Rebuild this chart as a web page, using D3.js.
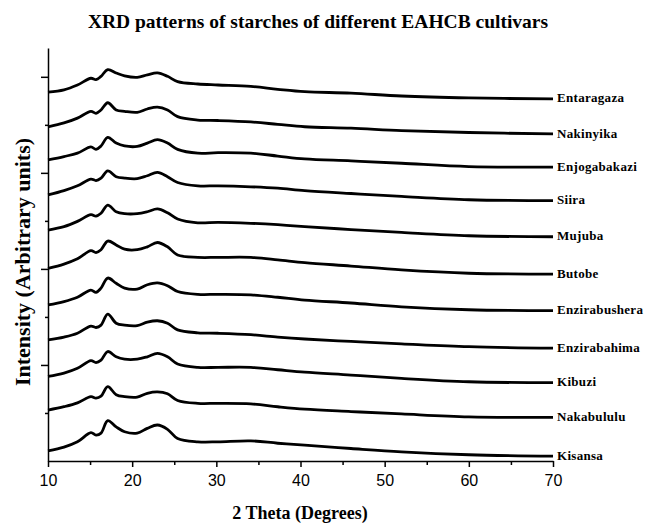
<!DOCTYPE html>
<html>
<head>
<meta charset="utf-8">
<script src="https://cdnjs.cloudflare.com/ajax/libs/d3/7.8.5/d3.min.js"></script>
<style>
  body { margin: 0; background: #fff; }
  svg { display: block; }
</style>
</head>
<body>
<div id="chart"></div>
<script>
const twoTheta = [10, 11.9, 13.5, 15.1, 15.7, 16.3, 17.1, 18.1, 19.1, 20.6, 21.8, 23.0,
                  24.2, 25.4, 27.8, 30.2, 34.1, 37.3, 40.5, 46, 52, 60, 70];

// cultivars, top to bottom (stacked, already offset)
const cultivars = ["Entaragaza", "Nakinyika", "Enjogabakazi", "Siira", "Mujuba", "Butobe",
                   "Enzirabushera", "Enzirabahima", "Kibuzi", "Nakabululu", "Kisansa"];

// intensity (arbitrary units) per cultivar
const entaragaza    = [7.68, 7.73, 7.83, 7.97, 7.94, 8.01, 8.15, 8.08, 8.02, 7.99, 8.04, 8.08, 8.01, 7.90, 7.85, 7.83, 7.80, 7.74, 7.69, 7.66, 7.60, 7.56, 7.54];
const nakinyika     = [6.96, 7.04, 7.14, 7.28, 7.24, 7.31, 7.46, 7.31, 7.28, 7.26, 7.33, 7.37, 7.31, 7.17, 7.10, 7.09, 7.06, 7.01, 6.96, 6.93, 6.88, 6.84, 6.81];
const enjogabakazi  = [6.27, 6.34, 6.41, 6.54, 6.49, 6.56, 6.74, 6.62, 6.56, 6.55, 6.62, 6.69, 6.62, 6.49, 6.41, 6.42, 6.41, 6.35, 6.29, 6.25, 6.20, 6.13, 6.12];
const siira         = [5.54, 5.63, 5.73, 5.87, 5.84, 5.89, 6.04, 5.92, 5.89, 5.88, 5.94, 6.01, 5.92, 5.80, 5.73, 5.73, 5.71, 5.68, 5.63, 5.57, 5.51, 5.44, 5.42];
const mujuba        = [4.81, 4.88, 4.99, 5.13, 5.10, 5.16, 5.33, 5.19, 5.15, 5.15, 5.19, 5.25, 5.17, 5.04, 4.96, 4.97, 4.95, 4.92, 4.88, 4.82, 4.76, 4.69, 4.67];
const butobe        = [4.01, 4.10, 4.21, 4.38, 4.34, 4.40, 4.58, 4.50, 4.41, 4.40, 4.46, 4.55, 4.46, 4.29, 4.24, 4.24, 4.24, 4.19, 4.13, 4.06, 3.98, 3.91, 3.89];
const enzirabushera = [3.25, 3.32, 3.41, 3.56, 3.51, 3.60, 3.81, 3.70, 3.60, 3.58, 3.67, 3.71, 3.65, 3.53, 3.47, 3.47, 3.46, 3.41, 3.35, 3.29, 3.21, 3.15, 3.13];
const enzirabahima  = [2.52, 2.58, 2.66, 2.81, 2.78, 2.83, 3.06, 2.87, 2.83, 2.82, 2.89, 2.92, 2.87, 2.73, 2.67, 2.66, 2.63, 2.58, 2.54, 2.49, 2.44, 2.38, 2.35];
const kibuzi        = [1.76, 1.83, 1.93, 2.09, 2.05, 2.10, 2.28, 2.17, 2.12, 2.12, 2.17, 2.24, 2.17, 2.02, 1.95, 1.95, 1.95, 1.90, 1.85, 1.79, 1.72, 1.65, 1.63];
const nakabululu    = [1.06, 1.13, 1.21, 1.34, 1.31, 1.35, 1.55, 1.38, 1.34, 1.33, 1.41, 1.44, 1.40, 1.26, 1.20, 1.20, 1.19, 1.13, 1.08, 1.03, 0.98, 0.92, 0.91];
const kisansa       = [0.21, 0.29, 0.40, 0.59, 0.54, 0.58, 0.84, 0.71, 0.61, 0.58, 0.68, 0.75, 0.66, 0.47, 0.40, 0.40, 0.42, 0.37, 0.33, 0.26, 0.19, 0.13, 0.10];

const patterns = [entaragaza, nakinyika, enjogabakazi, siira, mujuba, butobe,
                  enzirabushera, enzirabahima, kibuzi, nakabululu, kisansa];

const xTicks = [10, 20, 30, 40, 50, 60, 70];

// ---- layout ----
const W = 646, H = 526;
const margin = { top: 48, right: 93, bottom: 65, left: 48 };

const svg = d3.select('#chart').append('svg')
  .attr('width', W)
  .attr('height', H);

const x = d3.scaleLinear().domain([10, 70]).range([margin.left, W - margin.right]);
const y = d3.scaleLinear().domain([0, 8.6]).range([H - margin.bottom, margin.top]);

const serif = '"Liberation Serif", "Times New Roman", serif';
const sans = '"Liberation Sans", Arial, sans-serif';

// title
svg.append('text')
  .attr('x', 318).attr('y', 28)
  .attr('text-anchor', 'middle')
  .attr('font-family', serif).attr('font-weight', 'bold').attr('font-size', 19.5)
  .text('XRD patterns of starches of different EAHCB cultivars');

// minor x ticks
svg.append('g')
  .attr('transform', `translate(0,${y(0)})`)
  .call(d3.axisBottom(x).tickValues(d3.range(15, 70, 10)).tickSize(4).tickFormat(''))
  .call(g => g.select('.domain').remove())
  .call(g => g.selectAll('line').attr('stroke-width', 1.5));

// main x axis
svg.append('g')
  .attr('transform', `translate(0,${y(0)})`)
  .call(d3.axisBottom(x).tickValues(xTicks).tickSize(6).tickSizeOuter(0).tickPadding(8).tickFormat(d3.format('d')))
  .call(g => g.select('.domain').attr('stroke-width', 1.5))
  .call(g => g.selectAll('line').attr('stroke-width', 1.5))
  .call(g => g.selectAll('text').attr('font-family', sans).attr('font-size', 16).attr('fill', '#000'));

// y axis: long ticks on even, short on odd, no labels
svg.append('g')
  .attr('transform', `translate(${x(10)},0)`)
  .call(d3.axisLeft(y).tickValues([1, 3, 5, 7]).tickSize(3).tickFormat(''))
  .call(g => g.select('.domain').remove())
  .call(g => g.selectAll('line').attr('stroke-width', 1.5));

svg.append('g')
  .attr('transform', `translate(${x(10)},0)`)
  .call(d3.axisLeft(y).tickValues([2, 4, 6, 8]).tickSize(7).tickSizeOuter(0).tickFormat(''))
  .call(g => g.select('.domain').attr('stroke-width', 1.5))
  .call(g => g.selectAll('line').attr('stroke-width', 1.5));

// patterns
const line = d3.line()
  .x((d, i) => x(twoTheta[i]))
  .y(d => y(d))
  .curve(d3.curveCatmullRom.alpha(0.5));

svg.append('g')
  .selectAll('path')
  .data(patterns)
  .enter()
  .append('path')
  .attr('d', d => line(d))
  .attr('fill', 'none')
  .attr('stroke', '#000')
  .attr('stroke-width', 2.8)
  .attr('stroke-linejoin', 'round');

// cultivar labels at the right end of each pattern
svg.append('g')
  .selectAll('text')
  .data(patterns)
  .enter()
  .append('text')
  .attr('x', x(70) + 4)
  .attr('y', d => y(d[d.length - 1]) - 1)
  .attr('dy', '0.35em')
  .attr('font-family', serif).attr('font-weight', 'bold').attr('font-size', 13)
  .attr('letter-spacing', 0.3)
  .text((d, i) => cultivars[i]);

// axis titles
svg.append('text')
  .attr('x', 300).attr('y', 519)
  .attr('text-anchor', 'middle')
  .attr('font-family', serif).attr('font-weight', 'bold').attr('font-size', 18)
  .text('2 Theta (Degrees)');

svg.append('text')
  .attr('transform', 'translate(30,262) rotate(-90)')
  .attr('text-anchor', 'middle')
  .attr('font-family', serif).attr('font-weight', 'bold').attr('font-size', 22)
  .text('Intensity (Arbitrary units)');
</script>
</body>
</html>
